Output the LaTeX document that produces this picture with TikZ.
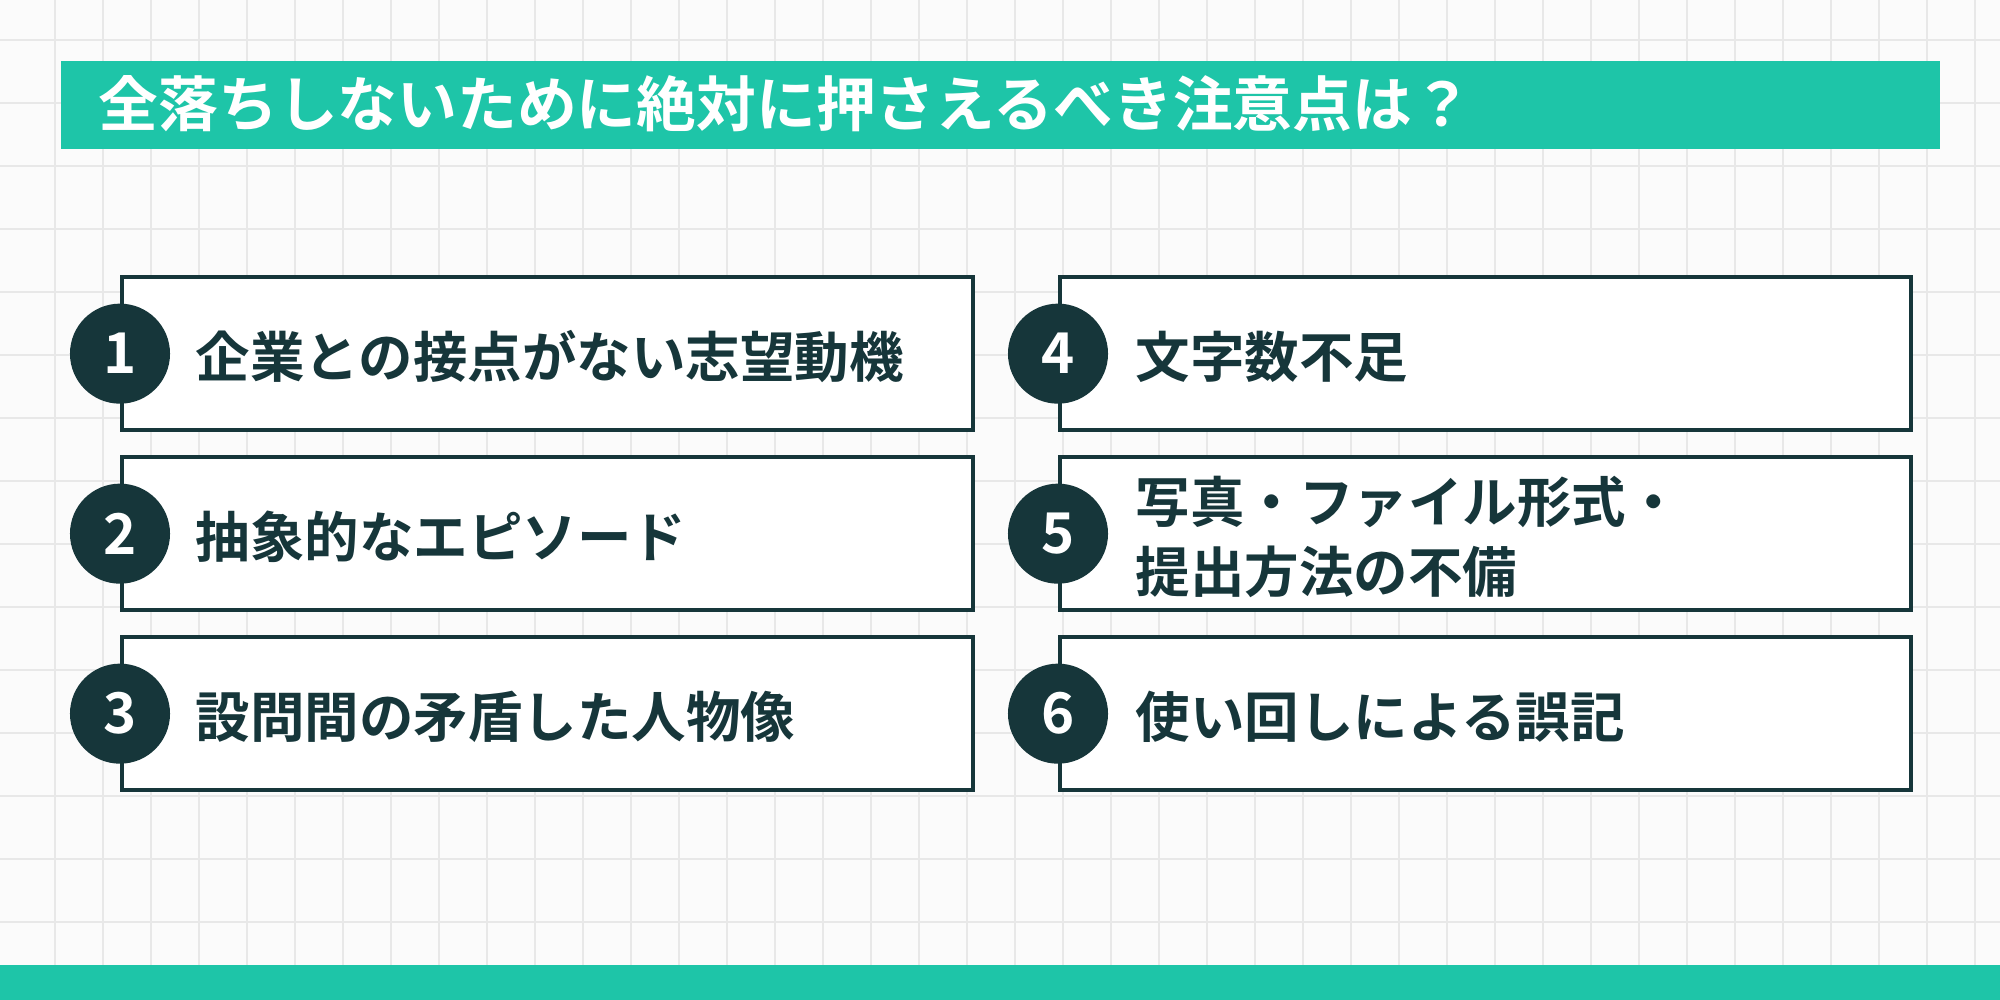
\documentclass[tikz,border=0pt]{standalone}
\usepackage{fontspec}
\setmainfont{Noto Sans CJK JP Bold}
\usetikzlibrary{positioning}
\definecolor{teal}{HTML}{1EC5A8}
\definecolor{ink}{HTML}{16363A}
\begin{document}
\begin{tikzpicture}[x=0.01cm,y=-0.01cm]
\tikzset{item/.style={draw=ink,line width=1.2pt,fill=white,minimum width=8.5cm,minimum height=1.53cm,inner sep=0pt},
  num/.style={circle,fill=ink,text=white,minimum size=1.0cm,inner sep=0pt,font=\fontsize{16}{16}\selectfont},
  label/.style={anchor=west,text=ink,align=left,inner sep=0pt,font=\fontsize{15.5}{20}\selectfont}}
\fill[white!98.5!black] (0,0) rectangle (2000,1000);
\useasboundingbox (0,0) rectangle (2000,1000);
% grid
\foreach \x in {55,103,...,2000} \draw[black!9,line width=0.5pt] (\x,0) -- (\x,1000);
\foreach \y in {40,103,...,1000} \draw[black!9,line width=0.5pt] (0,\y) -- (2000,\y);
% title
\node[fill=teal,minimum width=18.78cm,minimum height=0.88cm,anchor=north west] (title) at (60,60) {};
\node[anchor=west,inner sep=0pt,text=white,font=\fontsize{17}{17}\selectfont] (titletxt) at (98,104) {全落ちしないために絶対に押さえるべき注意点は？};
% items
\node[item,anchor=north west] (b1) at (120,275) {};
\node[item,anchor=north west] (b2) at (120,455) {};
\node[item,anchor=north west] (b3) at (120,635) {};
\node[item,anchor=north west] (b4) at (1058,275) {};
\node[item,anchor=north west] (b5) at (1058,455) {};
\node[item,anchor=north west] (b6) at (1058,635) {};
\node[num] (n1) at (b1.west) {1};
\node[num] (n2) at (b2.west) {2};
\node[num] (n3) at (b3.west) {3};
\node[num] (n4) at (b4.west) {4};
\node[num] (n5) at (b5.west) {5};
\node[num] (n6) at (b6.west) {6};
\node[label] (t1) at (195,357) {企業との接点がない志望動機};
\node[label] (t2) at (195,537) {抽象的なエピソード};
\node[label] (t3) at (195,717) {設問間の矛盾した人物像};
\node[label] (t4) at (1135,357) {文字数不足};
\node[label] (t5) at (1135,537) {写真・ファイル形式・\\提出方法の不備};
\node[label] (t6) at (1135,717) {使い回しによる誤記};
% bottom bar
\fill[teal] (0,965) rectangle (2000,1000);
\end{tikzpicture}
\end{document}
